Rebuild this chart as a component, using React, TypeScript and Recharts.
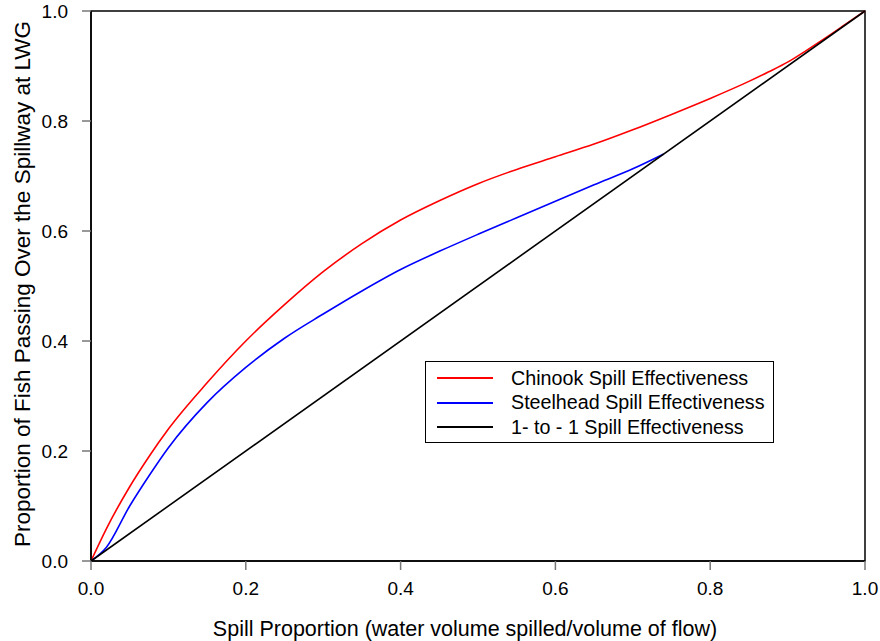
import { LineChart, Line, XAxis, YAxis, ReferenceArea } from 'recharts'

// spill proportion sample points per curve
const CHINOOK_X = [0, 0.02, 0.05, 0.075, 0.1, 0.15, 0.2, 0.25, 0.3, 0.35, 0.4, 0.45, 0.5, 0.55, 0.6, 0.65, 0.7, 0.75, 0.8, 0.85, 0.875, 0.9, 0.925, 0.95, 0.975, 1.0]
const CHINOOK_Y = [0, 0.059, 0.135, 0.19, 0.24, 0.324, 0.4, 0.466, 0.526, 0.577, 0.62, 0.655, 0.686, 0.712, 0.735, 0.758, 0.784, 0.812, 0.841, 0.872, 0.889, 0.907, 0.929, 0.952, 0.976, 1.0]

const STEELHEAD_X = [0, 0.02, 0.05, 0.075, 0.1, 0.15, 0.2, 0.25, 0.3, 0.35, 0.4, 0.45, 0.5, 0.55, 0.6, 0.65, 0.7, 0.74]
const STEELHEAD_Y = [0, 0.025, 0.1, 0.155, 0.206, 0.288, 0.352, 0.405, 0.449, 0.491, 0.53, 0.563, 0.594, 0.624, 0.654, 0.684, 0.713, 0.74]

const ONE_TO_ONE_X = [0, 1]
const ONE_TO_ONE_Y = [0, 1]

const TICKS = [0, 0.2, 0.4, 0.6, 0.8, 1.0]

const SERIES = [
  { name: 'Chinook Spill Effectiveness', color: '#ff0000', xs: CHINOOK_X, ys: CHINOOK_Y },
  { name: 'Steelhead Spill Effectiveness', color: '#0000ff', xs: STEELHEAD_X, ys: STEELHEAD_Y },
  { name: '1- to - 1 Spill Effectiveness', color: '#000000', xs: ONE_TO_ONE_X, ys: ONE_TO_ONE_Y },
]

const toPoints = (xs: number[], ys: number[]) => xs.map((x, i) => ({ x, y: ys[i] }))

const FONT = 'Liberation Sans, Arial, sans-serif'

function LegendBox() {
  return (
    <div style={{ position: 'absolute', left: 425, top: 361, border: '1.5px solid #000', background: '#fff', width: 349, height: 82, boxSizing: 'border-box', paddingTop: 4, fontFamily: FONT }}>
      {SERIES.map((s) => (
        <div key={s.name} style={{ display: 'flex', alignItems: 'center', height: 24.5 }}>
          <div style={{ width: 56, height: 2, background: s.color, marginLeft: 11, marginRight: 18 }} />
          <span style={{ fontSize: 19.7, color: '#000', whiteSpace: 'nowrap' }}>{s.name}</span>
        </div>
      ))}
    </div>
  )
}

export default function App() {
  return (
    <div style={{ position: 'fixed', left: 0, top: 0, width: 880, height: 641, background: '#fff' }}>
      <LineChart width={880} height={641} margin={{ top: 11, right: 15, bottom: 0, left: 0 }}>
        <XAxis
          type="number"
          dataKey="x"
          domain={[0, 1]}
          ticks={TICKS}
          tickFormatter={(v: number) => v.toFixed(1)}
          height={80}
          tickSize={9}
          tickMargin={12}
          axisLine={{ stroke: '#000', strokeWidth: 1.5 }}
          tickLine={{ stroke: '#777', strokeWidth: 1.5 }}
          tick={{ fill: '#000', fontSize: 19, fontFamily: FONT }}
          allowDuplicatedCategory={false}
          label={{
            content: ({ viewBox }: any) => (
              <text x={viewBox.x + viewBox.width / 2 - 13} y={636} textAnchor="middle" fontSize={21.5} fontFamily={FONT} fill="#000">
                Spill Proportion (water volume spilled/volume of flow)
              </text>
            ),
          }}
        />
        <YAxis
          type="number"
          dataKey="y"
          domain={[0, 1]}
          ticks={TICKS}
          tickFormatter={(v: number) => v.toFixed(1)}
          width={91}
          tickSize={9}
          tickMargin={14}
          axisLine={{ stroke: '#000', strokeWidth: 1.5 }}
          tickLine={{ stroke: '#777', strokeWidth: 1.5 }}
          tick={{ fill: '#000', fontSize: 19, fontFamily: FONT }}
          label={{
            content: ({ viewBox }: any) => {
              const cx = 22
              const cy = viewBox.y + viewBox.height / 2 - 2
              return (
                <text x={cx} y={cy} transform={`rotate(-90, ${cx}, ${cy})`} textAnchor="middle" dominantBaseline="central" fontSize={22.5} fontFamily={FONT} fill="#000">
                  Proportion of Fish Passing Over the Spillway at LWG
                </text>
              )
            },
          }}
        />
        <ReferenceArea x1={0} x2={1} y1={0} y2={1} fill="none" stroke="#000" strokeWidth={1.5} ifOverflow="visible" />
        {SERIES.map((s) => (
          <Line
            key={s.name}
            data={toPoints(s.xs, s.ys)}
            dataKey="y"
            name={s.name}
            type={s.xs.length > 2 ? 'monotone' : 'linear'}
            stroke={s.color}
            strokeWidth={1.6}
            dot={false}
            activeDot={false}
            isAnimationActive={false}
          />
        ))}
      </LineChart>
      <LegendBox />
    </div>
  )
}
